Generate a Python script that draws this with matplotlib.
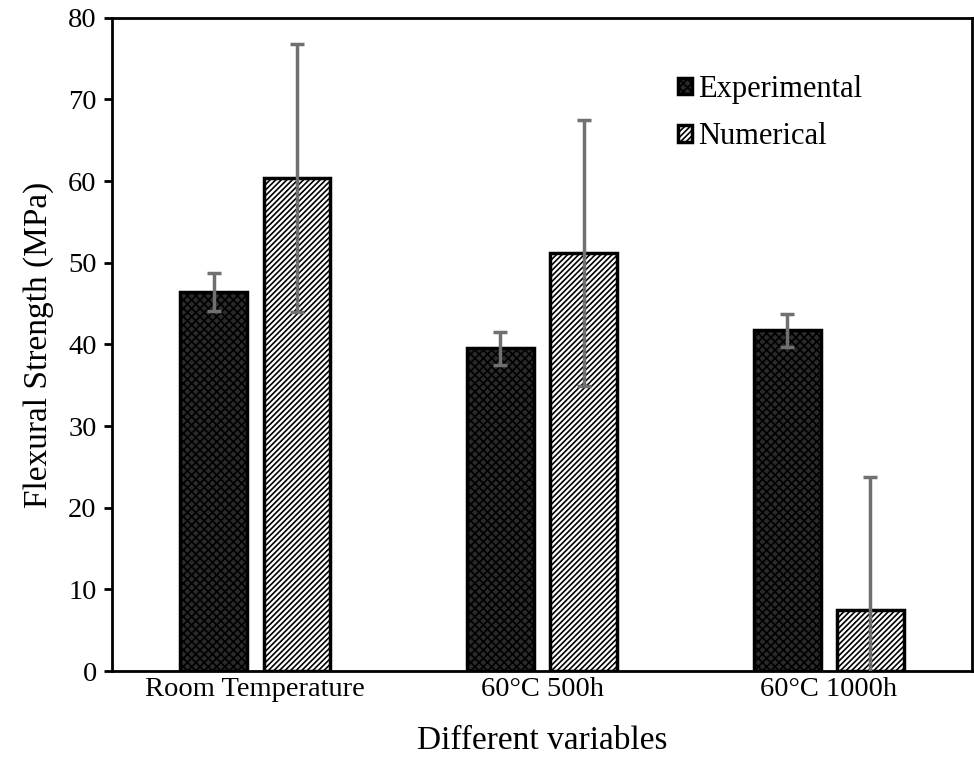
import numpy as np
import matplotlib
matplotlib.use('Agg')
import matplotlib.pyplot as plt

plt.rcParams['font.family'] = ['Liberation Serif', 'DejaVu Serif']
plt.rcParams['hatch.linewidth'] = 1.2

categories = ['Room Temperature', '60°C 500h', '60°C 1000h']
experimental = [46.4, 39.5, 41.7]
experimental_err = [2.3, 2.0, 2.0]
numerical = [60.4, 51.2, 7.5]
numerical_err = [16.4, 16.3, 16.3]

fig = plt.figure(figsize=(9.74, 7.67), dpi=100)
ax = fig.add_axes([0.115, 0.125, 0.883, 0.852])

x = np.arange(len(categories))
w = 0.233
off = 0.145

ax.bar(x - off, experimental, w, color='#2a2a2a', edgecolor='black',
       hatch='xxxx', linewidth=2.5, label='Experimental', zorder=2)
ax.bar(x + off, numerical, w, color='white', edgecolor='black',
       hatch='//////', linewidth=2.5, label='Numerical', zorder=2)

ax.errorbar(x - off, experimental, yerr=experimental_err, fmt='none',
            ecolor='#707070', elinewidth=2.5, capsize=5, capthick=2.5, zorder=3)
ax.errorbar(x + off, numerical, yerr=numerical_err, fmt='none',
            ecolor='#707070', elinewidth=2.5, capsize=5, capthick=2.5, zorder=3)

ax.set_xlim(-0.5, 2.5)
ax.set_ylim(0, 80)
ax.set_yticks(range(0, 81, 10))
ax.set_xticks(x)
ax.set_xticklabels(categories)
ax.tick_params(axis='x', length=0, pad=4, labelsize=20.5)
ax.tick_params(axis='y', length=6, width=2, labelsize=20.5, pad=5)
for s in ax.spines.values():
    s.set_linewidth(2)

ax.set_ylabel('Flexural Strength (MPa)', fontsize=24, labelpad=10)
ax.set_xlabel('Different variables', fontsize=24, labelpad=17)

ax.legend(loc='upper left', bbox_to_anchor=(0.633, 0.945), frameon=False,
          fontsize=22, handlelength=0.45, handleheight=0.45, handletextpad=0.2,
          labelspacing=0.6, borderpad=0.2)

fig.savefig('out.png', dpi=100)
